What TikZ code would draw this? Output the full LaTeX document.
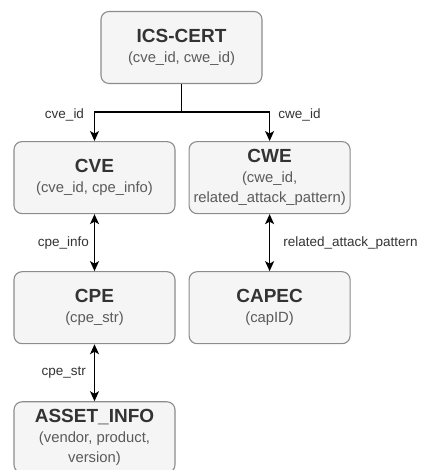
\documentclass[tikz,border=0pt]{standalone}
\usepackage{fontspec}
\setmainfont{Liberation Sans}
\usetikzlibrary{positioning,arrows.meta,calc}
\definecolor{boxfill}{HTML}{F5F5F5}
\definecolor{boxline}{HTML}{8C8C8C}
\definecolor{titlegray}{HTML}{333333}
\definecolor{subgray}{HTML}{5A5A5A}
\tikzset{>={Stealth[length=10pt,width=9pt,inset=2.5pt]}}
\newcommand{\boxtext}[2]{{\fontsize{19}{21}\selectfont\bfseries\color{titlegray}#1}\\#2}

\begin{document}
\begin{tikzpicture}[x=1pt,y=1pt,node distance=57pt,
    table/.style={draw=boxline,fill=boxfill,line width=1.1pt,rounded corners=8pt,
      minimum width=161pt,minimum height=72pt,inner sep=0pt,align=center,
      text=subgray,font=\fontsize{14.8}{20}\selectfont},
    link/.style={line width=1.3pt},
    lbl/.style={font=\fontsize{13.5}{16}\selectfont,text=titlegray,inner sep=0pt}]
    \useasboundingbox (0,0) rectangle (423,470);
    \node[table] (ics) at (181.5,422.5) {\boxtext{ICS-CERT}{(cve\_id, cwe\_id)}};
    \node[table] (cve) [below=57pt of ics,xshift=-87pt] {\boxtext{CVE}{(cve\_id, cpe\_info)}};
    \node[table] (cwe) [right=13pt of cve] {\boxtext{CWE}{(cwe\_id,\\related\_attack\_pattern)}};
    \node[table] (cpe) [below=of cve] {\boxtext{CPE}{(cpe\_str)}};
    \node[table] (capec) [right=13pt of cpe] {\boxtext{CAPEC}{(capID)}};
    \node[table,minimum height=71pt] (asset) [below=of cpe] {\boxtext{ASSET\_INFO}{(vendor, product,\\version)}};
    \coordinate (split) at ($(ics.south)+(0,-28)$);
    % ics-cert to cve / cwe
    \draw[link] (ics.south) -- (split);
    \draw[link,->] (split) -| (cve.north);
    \draw[link,->] (split) -| (cwe.north);
    \node[lbl] (lcve) at (64.5,355) {cve\_id};
    \node[lbl] (lcwe) at (299.5,355) {cwe\_id};
    % joins
    \draw[link,<->] (cve) -- (cpe) node[lbl,midway,left=5pt] (lcpe) {cpe\_info};
    \draw[link,<->] (cwe) -- (capec) node[lbl,midway,right=13pt] (lrel) {related\_attack\_pattern};
    \draw[link,<->] (cpe) -- (asset) node[lbl,midway,left=8pt] (lstr) {cpe\_str};
\end{tikzpicture}
\end{document}
